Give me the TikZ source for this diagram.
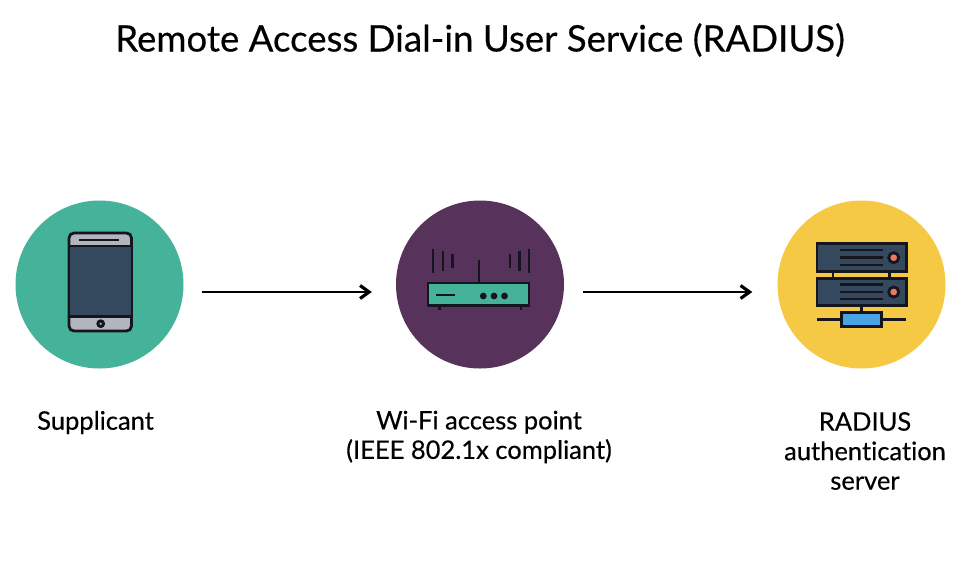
\documentclass[tikz,border=0pt]{standalone}
\usepackage{fontspec}
\setmainfont{Lato}[Ligatures=NoCommon,RawFeature={embolden=0.35}]
\usetikzlibrary{arrows.meta}
\definecolor{tealc}{HTML}{45B39A}
\definecolor{plumc}{HTML}{57335C}
\definecolor{yellowc}{HTML}{F6C945}
\definecolor{slatec}{HTML}{34495E}
\definecolor{greyc}{HTML}{B3B5BD}
\definecolor{inkc}{HTML}{14151F}
\definecolor{redc}{HTML}{F0775F}
\definecolor{bluec}{HTML}{4AA3E2}
\tikzset{
  disc/.style={circle,minimum size=168pt,inner sep=0pt,fill=#1},
  ink/.style={draw=inkc,line width=2.8pt},
  thin ink/.style={draw=inkc,line width=2.4pt},
  flow/.style={draw=black,line width=2.8pt,-{Straight Barb[length=9pt,width=13pt,line width=3.2pt]}},
  caption/.style={align=center,font=\fontsize{25.5}{29.5}\selectfont,text=black,inner sep=0pt},
}
\begin{document}
\begin{tikzpicture}[x=1pt,y=-1pt]
\useasboundingbox[fill=white] (0,0) rectangle (979,563);
\node[font=\fontsize{36.6}{42}\selectfont,inner sep=0pt] (title) at (480,40) {Remote Access Dial-in User Service (RADIUS)};
\node[disc=tealc] (c1) at (99.5,284.5) {};
\node[disc=plumc] (c2) at (480,284.5) {};
\node[disc=yellowc] (c3) at (861.5,284.5) {};
% phone
\draw[ink,fill=greyc,rounded corners=5pt] (69,233) rectangle (131.5,331);
\fill[slatec] (69.5,246) rectangle (131,316.5);
\draw[ink] (69,246) -- (131.5,246) (69,316.5) -- (131.5,316.5);
\draw[thin ink] (79,240) -- (119,240);
\draw[draw=inkc,fill=greyc,line width=3pt] (100.7,323.7) circle (2.8);
% access point
\draw[thin ink] (433,249) -- (433,272.7) (442.7,251) -- (442.7,271) (452.3,254) -- (452.3,267.7)
  (510,254) -- (510,268) (519.3,251) -- (519.3,271) (529,249) -- (529,272.7)
  (478.7,260) -- (478.7,283) (439.3,306) -- (439.3,310) (521,306) -- (521,310);
\draw[ink,fill=tealc] (428,283) rectangle (529,305.7);
\draw[thin ink] (436,295) -- (455.3,295);
\fill[inkc] (483.3,296) circle (3.4) (494,296) circle (3.4) (504.5,296) circle (3.4);
% server
\draw[ink] (833,271.7) -- (833,278.3) (889.7,271.7) -- (889.7,278.3) (861.3,305.7) -- (861.3,312.3);
\draw[thin ink] (817,319.3) -- (906,319.3);
\draw[ink,fill=slatec] (817,243.3) rectangle (906.3,271.7);
\draw[ink,fill=slatec] (817,278.3) rectangle (906.3,305.7);
\draw[thin ink] (840,250) -- (882.7,250) (840,257.3) -- (882.7,257.3) (840,265) -- (882.7,265)
  (840,284.3) -- (882.7,284.3) (840,291.7) -- (882.7,291.7) (840,299) -- (882.7,299);
\draw[ink,fill=redc] (893.7,257.7) circle (5) (893.7,292) circle (5);
\draw[ink,fill=bluec] (841.3,312.3) rectangle (881.3,326.7);
% connectors
\draw[flow,shorten <=18pt,shorten >=24pt] ([yshift=-7.5pt]c1.east) -- ([yshift=-7.5pt]c2.west);
\draw[flow,shorten <=19pt,shorten >=25pt] ([yshift=-7.5pt]c2.east) -- ([yshift=-7.5pt]c3.west);
% captions
\node[caption] (l1) at (95.5,422.5) {Supplicant};
\node[caption] (l2) at (479,437) {Wi-Fi access point\\(IEEE 802.1x compliant)};
\node[caption] (l3) at (865,451) {RADIUS\\authentication\\server};
\end{tikzpicture}
\end{document}
